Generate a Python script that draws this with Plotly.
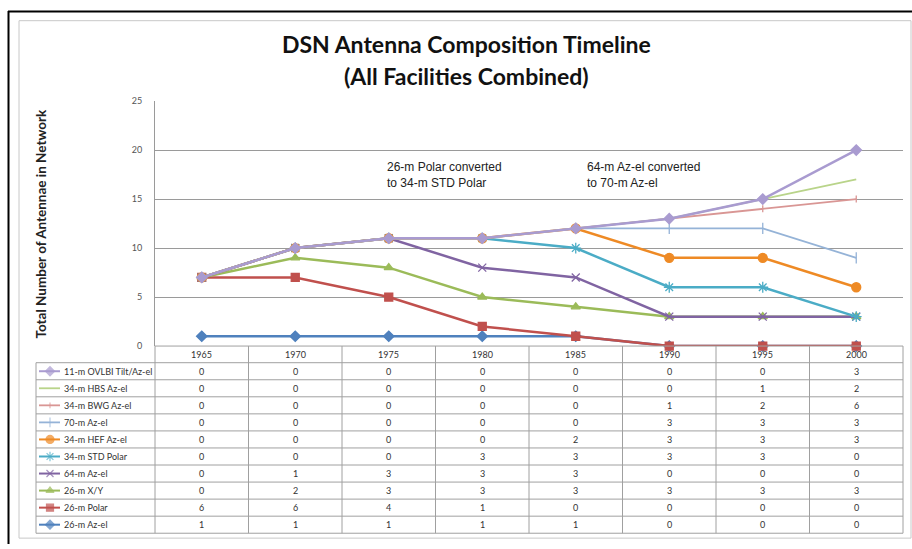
import plotly.graph_objects as go

W, H = 912, 549

# ---------------- data ----------------
years = ["1965", "1970", "1975", "1980", "1985", "1990", "1995", "2000"]
az26 = [1, 1, 1, 1, 1, 0, 0, 0]
polar26 = [6, 6, 4, 1, 0, 0, 0, 0]
xy26 = [0, 2, 3, 3, 3, 3, 3, 3]
az64 = [0, 1, 3, 3, 3, 0, 0, 0]
std34 = [0, 0, 0, 3, 3, 3, 3, 0]
hef34 = [0, 0, 0, 0, 2, 3, 3, 3]
az70 = [0, 0, 0, 0, 0, 3, 3, 3]
bwg34 = [0, 0, 0, 0, 0, 1, 2, 6]
hbs34 = [0, 0, 0, 0, 0, 0, 1, 2]
ovlbi11 = [0, 0, 0, 0, 0, 0, 0, 3]
names = ["26-m Az-el", "26-m Polar", "26-m X/Y", "64-m Az-el", "34-m STD Polar",
         "34-m HEF Az-el", "70-m Az-el", "34-m BWG Az-el", "34-m HBS Az-el",
         "11-m OVLBI Tilt/Az-el"]
values = [az26, polar26, xy26, az64, std34, hef34, az70, bwg34, hbs34, ovlbi11]
y_ticks = [0, 5, 10, 15, 20, 25]
notes = ["26-m Polar converted<br>to 34-m STD Polar",
         "64-m Az-el converted<br>to 70-m Az-el"]

# ---------------- styles ----------------
styles = [
    dict(color="#4F81BD", width=2.5, symbol="diamond", size=8, mode="lines+markers"),
    dict(color="#C0504D", width=2.5, symbol="square", size=8, mode="lines+markers"),
    dict(color="#9BBB59", width=2.5, symbol="triangle-up", size=8, mode="lines+markers"),
    dict(color="#8064A2", width=2.5, symbol="x-thin-open", size=8, mode="lines+markers"),
    dict(color="#4BACC6", width=2.5, symbol="asterisk-open", size=9, mode="lines+markers"),
    dict(color="#EE8A25", width=2.5, symbol="circle", size=9, mode="lines+markers"),
    dict(color="#95B3D7", width=1.8, symbol="line-ns-open", size=8, mode="lines+markers"),
    dict(color="#D99694", width=1.8, symbol="line-ns-open", size=5, mode="lines+markers"),
    dict(color="#B9D48A", width=1.8, symbol="circle", size=0, mode="lines"),
    dict(color="#A99BD0", width=2.5, symbol="diamond", size=8, mode="lines+markers"),
]

def px(x):
    return x / W

def py(y):
    return 1 - y / H

X0, X1 = 155, 903      # plot area left/right in pixels
YT, YB = 97, 347       # plot area top/bottom in pixels
TL = 36                # table left
ROW0 = 364             # first data row top
RH = 17.4              # row height
ncol = len(years)
colw = (X1 - X0) / ncol

fig = go.Figure()

for name, vals, st in zip(names, values, styles):
    mk = dict(symbol=st["symbol"], size=st["size"], color=st["color"],
              line=dict(color=st["color"], width=1.3))
    fig.add_trace(go.Scatter(
        x=years, y=vals, name=name, stackgroup="one", fill="none",
        mode=st["mode"], line=dict(color=st["color"], width=st["width"]),
        marker=mk, cliponaxis=False, showlegend=False))

# ---------------- layout ----------------
shapes = []
annotations = []

# outer borders
shapes.append(dict(type="line", xref="paper", yref="paper", x0=px(8), x1=px(912),
                   y0=py(5.5), y1=py(5.5), line=dict(color="black", width=2)))
shapes.append(dict(type="line", xref="paper", yref="paper", x0=px(8.5), x1=px(8.5),
                   y0=py(5), y1=py(549), line=dict(color="black", width=2)))
shapes.append(dict(type="rect", xref="paper", yref="paper", x0=px(19), x1=px(911),
                   y0=py(15), y1=py(543), line=dict(color="#C8C8C8", width=1)))

tcol = "#A0A0A0"
# table horizontal lines
shapes.append(dict(type="line", xref="paper", yref="paper", x0=px(X0), x1=px(X1),
                   y0=py(YB), y1=py(YB), line=dict(color=tcol, width=1)))
for k in range(len(names) + 1):
    yy = ROW0 + k * RH
    shapes.append(dict(type="line", xref="paper", yref="paper", x0=px(TL), x1=px(X1),
                       y0=py(yy), y1=py(yy), line=dict(color=tcol, width=1)))
# table vertical lines
shapes.append(dict(type="line", xref="paper", yref="paper", x0=px(TL), x1=px(TL),
                   y0=py(ROW0), y1=py(ROW0 + len(names) * RH), line=dict(color=tcol, width=1)))
for k in range(ncol + 1):
    xx = X0 + k * colw
    shapes.append(dict(type="line", xref="paper", yref="paper", x0=px(xx), x1=px(xx),
                       y0=py(YB), y1=py(ROW0 + len(names) * RH), line=dict(color=tcol, width=1)))

tfont = dict(family="Lato, Open Sans, sans-serif", size=9, color="#333333")
# header years
for k, yr in enumerate(years):
    annotations.append(dict(xref="paper", yref="paper", x=px(X0 + (k + 0.5) * colw),
                            y=py(356), text=yr, showarrow=False, font=tfont,
                            xanchor="center", yanchor="middle"))
# rows: top row = last series
order = list(range(len(names)))[::-1]
for r, si in enumerate(order):
    yc = ROW0 + (r + 0.5) * RH
    annotations.append(dict(xref="paper", yref="paper", x=px(62), y=py(yc),
                            text=names[si], showarrow=False, font=tfont,
                            xanchor="left", yanchor="middle"))
    for k in range(ncol):
        annotations.append(dict(xref="paper", yref="paper", x=px(X0 + (k + 0.5) * colw),
                                y=py(yc), text=str(values[si][k]), showarrow=False,
                                font=tfont, xanchor="center", yanchor="middle"))
    st = styles[si]
    fig.add_trace(go.Scatter(
        x=[39, 50, 60], y=[yc, yc, yc], xaxis="x2", yaxis="y2",
        mode=st["mode"], showlegend=False, hoverinfo="skip",
        line=dict(color=st["color"], width=min(st["width"], 2)),
        marker=dict(symbol=st["symbol"], color=st["color"],
                    size=[0, max(st["size"] - 1, 0), 0],
                    line=dict(color=st["color"], width=1.2))))

# notes
nfont = dict(family="Liberation Sans, Arial, sans-serif", size=12, color="#222222")
for txt, xl in zip(notes, [385, 585]):
    annotations.append(dict(xref="paper", yref="paper", x=px(xl), y=py(172),
                            text=txt, showarrow=False, font=nfont, align="left",
                            xanchor="left", yanchor="middle"))

# titles
tfont_big = dict(family="Lato, Open Sans, sans-serif", size=23, color="#111111")
annotations.append(dict(xref="paper", yref="paper", x=px(466), y=py(39),
                        text="<b>DSN Antenna Composition Timeline</b>", showarrow=False,
                        font=tfont_big, xanchor="center", yanchor="middle"))
annotations.append(dict(xref="paper", yref="paper", x=px(466), y=py(71),
                        text="<b>(All Facilities Combined)</b>", showarrow=False,
                        font=tfont_big, xanchor="center", yanchor="middle"))
annotations.append(dict(xref="paper", yref="paper", x=px(41), y=py(222),
                        text="<b>Total Number of Antennae in Network</b>", showarrow=False,
                        textangle=-90,
                        font=dict(family="Lato, Open Sans, sans-serif", size=13.5, color="#222222"),
                        xanchor="center", yanchor="middle"))

fig.update_layout(
    width=W, height=H, margin=dict(l=0, r=0, t=0, b=0),
    paper_bgcolor="white", plot_bgcolor="rgba(0,0,0,0)",
    xaxis=dict(domain=[px(X0), px(X1)], type="category", range=[-0.5, 7.5],
               showgrid=False, showticklabels=False, ticks="", zeroline=False,
               showline=False, fixedrange=True),
    yaxis=dict(domain=[py(YB), py(YT)], range=[0, 25], tickvals=y_ticks,
               showgrid=True, gridcolor="#9A9A9A", gridwidth=1, zeroline=False,
               showline=True, linecolor="#9A9A9A", linewidth=1, ticks="",
               ticklabelstandoff=10,
               tickfont=dict(family="Lato, Open Sans, sans-serif", size=9, color="#555555")),
    xaxis2=dict(domain=[0, 1], range=[0, W], visible=False, anchor="y2"),
    yaxis2=dict(domain=[0, 1], range=[H, 0], visible=False, anchor="x2"),
    shapes=shapes, annotations=annotations,
)

fig.write_html("out.html", config={"displayModeBar": False},
               post_script="document.body.style.margin='0';document.body.style.overflow='hidden';")
